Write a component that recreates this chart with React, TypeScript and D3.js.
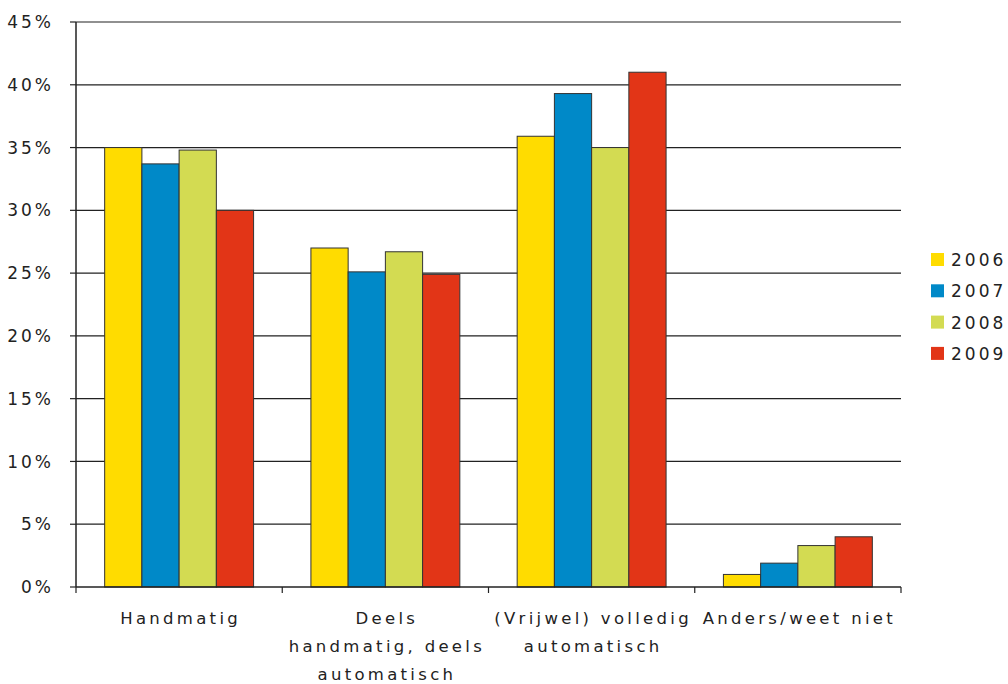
import React from 'react';
import { scaleBand, scaleLinear } from 'd3';

const categories = [
  ['Handmatig'],
  ['Deels', 'handmatig, deels', 'automatisch'],
  ['(Vrijwel) volledig', 'automatisch'],
  ['Anders/weet niet'],
];
const years = ['2006', '2007', '2008', '2009'];
const colors = ['#FFDC00', '#0089C8', '#D3DB52', '#E23517'];
// values per category, in order of years
const values2006 = [35, 27, 35.9, 1];
const values2007 = [33.7, 25.1, 39.3, 1.9];
const values2008 = [34.8, 26.7, 35, 3.3];
const values2009 = [30, 24.9, 41, 4];
const yTicks = [0, 5, 10, 15, 20, 25, 30, 35, 40, 45];

const W = 1008;
const H = 684;
const left = 76;
const right = 901;
const top = 22;
const bottom = 587;
const font = '"DejaVu Sans", sans-serif';
const ink = '#222';

export default function App() {
  const series = [values2006, values2007, values2008, values2009];
  const x = scaleBand<number>().domain(categories.map((_, i) => i)).range([left, right]);
  const inner = scaleBand<number>()
    .domain(years.map((_, i) => i))
    .range([0, x.bandwidth()])
    .paddingOuter(0.77)
    .paddingInner(0);
  const y = scaleLinear().domain([0, 45]).range([bottom, top]);

  return (
    <div style={{ position: 'absolute', left: 0, top: 0 }}>
      <svg width={W} height={H} style={{ display: 'block', background: '#fff' }}>
        {yTicks.map(t => (
          <g key={t}>
            {t > 0 && (
              <line x1={left} x2={right} y1={y(t)} y2={y(t)} stroke={ink} strokeWidth={1.2} />
            )}
            <line x1={left - 6} x2={left} y1={y(t)} y2={y(t)} stroke={ink} strokeWidth={1.2} />
            <text
              x={54}
              y={y(t)}
              dy="0.36em"
              textAnchor="end"
              fontFamily={font}
              fontSize={17}
              letterSpacing={3}
              fill={ink}
            >
              {t}%
            </text>
          </g>
        ))}
        {categories.map((_, ci) =>
          series.map((vals, si) => (
            <rect
              key={`${ci}-${si}`}
              x={(x(ci) as number) + (inner(si) as number)}
              y={y(vals[ci])}
              width={inner.bandwidth()}
              height={bottom - y(vals[ci])}
              fill={colors[si]}
              stroke="#333"
              strokeWidth={1}
            />
          ))
        )}
        <line x1={left} x2={left} y1={top} y2={bottom} stroke={ink} strokeWidth={1.5} />
        <line x1={left} x2={right} y1={bottom} y2={bottom} stroke={ink} strokeWidth={1.5} />
        {[...categories.map((_, i) => x(i) as number), right].map((px, i) => (
          <line key={i} x1={px} x2={px} y1={bottom} y2={bottom + 6} stroke={ink} strokeWidth={1.2} />
        ))}
        {categories.map((lines, ci) => (
          <text
            key={ci}
            textAnchor="middle"
            fontFamily={font}
            fontSize={16.5}
            letterSpacing={3.3}
            fill={ink}
          >
            {lines.map((ln, li) => (
              <tspan key={li} x={(x(ci) as number) + x.bandwidth() / 2 + 1.5} y={624 + li * 28}>
                {ln}
              </tspan>
            ))}
          </text>
        ))}
        {years.map((yr, i) => (
          <g key={yr} transform={`translate(931, ${260 + i * 31.3})`}>
            <rect x={0} y={-7} width={13} height={13} fill={colors[i]} />
            <text x={20} y={0} dy="0.36em" fontFamily={font} fontSize={17} letterSpacing={3} fill={ink}>
              {yr}
            </text>
          </g>
        ))}
      </svg>
    </div>
  );
}
